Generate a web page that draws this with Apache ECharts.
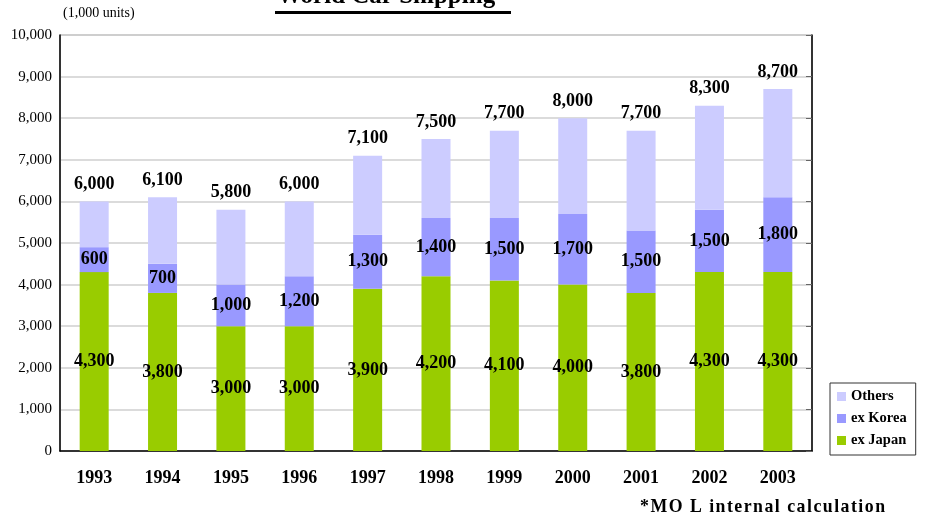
<!DOCTYPE html>
<html>
<head>
<meta charset="utf-8">
<script src="https://cdn.jsdelivr.net/npm/echarts@6/dist/echarts.min.js"></script>
<style>
  html, body { margin: 0; padding: 0; background: #fff; }
  #chart { width: 927px; height: 517px; }
</style>
</head>
<body>
<div id="chart"></div>
<script>
// Yearly shipments, in 1,000 units
const years = ['1993', '1994', '1995', '1996', '1997', '1998', '1999', '2000', '2001', '2002', '2003'];
const exJapan = [4300, 3800, 3000, 3000, 3900, 4200, 4100, 4000, 3800, 4300, 4300];
const exKorea = [600, 700, 1000, 1200, 1300, 1400, 1500, 1700, 1500, 1500, 1800];
const totals = [6000, 6100, 5800, 6000, 7100, 7500, 7700, 8000, 7700, 8300, 8700];
const others = totals.map((t, i) => t - exJapan[i] - exKorea[i]);

const SERIF = '"Liberation Serif", "Times New Roman", serif';
const fmt = v => Number(v).toLocaleString('en-US');
// spread letters a little with hair spaces
const spaced = s => s.split('').join('\u200A');

const chart = echarts.init(document.getElementById('chart'));

const valueLabel = {
  show: true,
  position: 'inside',
  fontFamily: SERIF,
  fontWeight: 'bold',
  fontSize: 18,
  color: '#000',
  formatter: p => fmt(p.value)
};

chart.setOption({
  animation: false,
  backgroundColor: '#fff',
  grid: {
    left: 60, right: 115, top: 35, bottom: 66,
    show: true, borderColor: '#999', borderWidth: 1
  },
  graphic: [
    {
      type: 'text', left: 277, top: -16,
      style: { text: 'World Car Shipping', font: 'bold 25px ' + SERIF, fill: '#000' }
    },
    {
      type: 'rect', shape: { x: 275, y: 11, width: 236, height: 3 },
      style: { fill: '#000' }
    },
    {
      type: 'text', left: 63, top: 6,
      style: { text: '(1,000 units)', font: '14px ' + SERIF, fill: '#000' }
    },
    {
      type: 'text', left: 640, top: 498,
      style: { text: spaced('*MO L internal calculation'), font: 'bold 17.8px ' + SERIF, fill: '#000' }
    }
  ],
  legend: {
    orient: 'vertical',
    left: 830, top: 383,
    data: ['Others', 'ex Korea', 'ex Japan'],
    icon: 'rect',
    itemWidth: 9, itemHeight: 9, itemGap: 7,
    padding: [6, 9, 7, 7],
    borderColor: '#333', borderWidth: 1,
    textStyle: { fontFamily: SERIF, fontWeight: 'bold', fontSize: 14.5, color: '#000', padding: [0, 0, 0, 0] }
  },
  xAxis: {
    type: 'category',
    data: years,
    axisLine: { lineStyle: { color: '#000', width: 1.5 } },
    axisTick: { inside: true, length: 4, lineStyle: { color: '#000' } },
    axisLabel: { fontFamily: SERIF, fontWeight: 'bold', fontSize: 18, color: '#000', margin: 18 }
  },
  yAxis: [
    {
      type: 'value', min: 0, max: 10000, interval: 1000,
      axisLine: { show: true, lineStyle: { color: '#000', width: 1.5 } },
      axisTick: { show: false },
      axisLabel: { fontFamily: SERIF, fontSize: 15, color: '#000', margin: 8, formatter: v => fmt(v) },
      splitLine: { lineStyle: { color: '#cfcfcf', width: 1.5 } }
    },
    {
      type: 'value', min: 0, max: 10000, interval: 1000, position: 'right',
      axisLine: { show: true, lineStyle: { color: '#000', width: 1.5 } },
      axisTick: { show: true, inside: true, length: 6, lineStyle: { color: '#666' } },
      axisLabel: { show: false },
      splitLine: { show: false }
    }
  ],
  series: [
    {
      name: 'ex Japan', type: 'bar', stack: 'total', data: exJapan,
      barWidth: 29,
      itemStyle: { color: '#99CC00' },
      label: valueLabel
    },
    {
      name: 'ex Korea', type: 'bar', stack: 'total', data: exKorea,
      itemStyle: { color: '#9999FF' },
      label: valueLabel
    },
    {
      name: 'Others', type: 'bar', stack: 'total', data: others,
      itemStyle: { color: '#CCCCFF' },
      label: Object.assign({}, valueLabel, {
        position: 'top', distance: 8,
        formatter: p => fmt(totals[p.dataIndex])
      })
    }
  ]
});
</script>
</body>
</html>
